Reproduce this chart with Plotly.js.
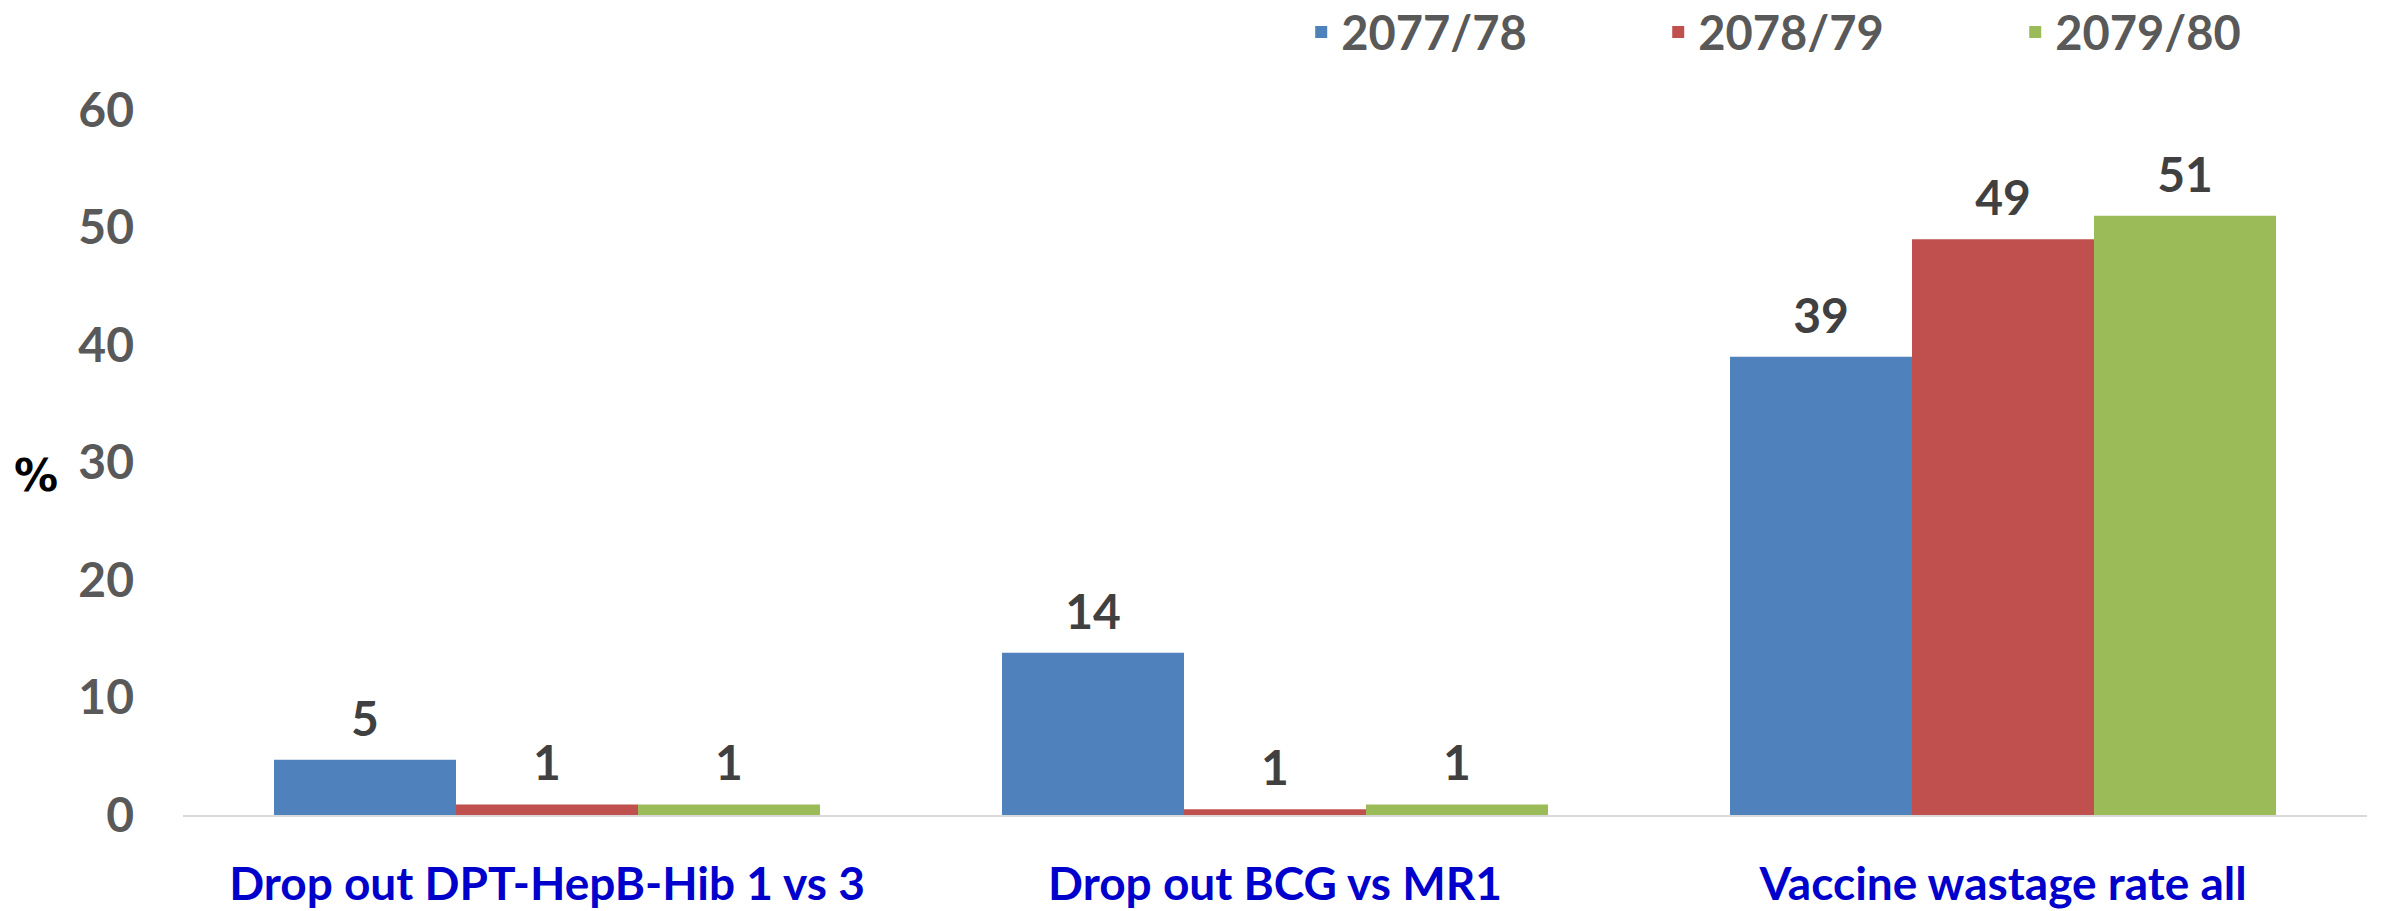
<!DOCTYPE html>
<html>
<head>
<meta charset="utf-8">
<script src="https://cdn.plot.ly/plotly-3.0.1.min.js"></script>
<style>
  html, body { margin: 0; padding: 0; background: #ffffff; }
  #chart { width: 2381px; height: 911px; }
</style>
</head>
<body>
<div id="chart"></div>
<script>
// ---- Data ----
const categories = ["Drop out DPT-HepB-Hib 1 vs 3", "Drop out BCG vs MR1", "Vaccine wastage rate all"];
const seriesNames = ["2077/78", "2078/79", "2079/80"];
const values2077 = [4.7, 13.8, 39];
const values2078 = [0.9, 0.5, 49];
const values2079 = [0.9, 0.9, 51];
const labels2077 = ["5", "14", "39"];
const labels2078 = ["1", "1", "49"];
const labels2079 = ["1", "1", "51"];
const yTickValues = [0, 10, 20, 30, 40, 50, 60];

// ---- Styles ----
const colors = ["#4f81bd", "#c0504d", "#9bbb59"];
const FONT = "Lato, 'Open Sans', sans-serif";

const allValues = [values2077, values2078, values2079];
const allLabels = [labels2077, labels2078, labels2079];

const traces = [];
allValues.forEach((vals, i) => {
  traces.push({
    type: "bar",
    name: seriesNames[i],
    x: categories,
    y: vals,
    marker: { color: colors[i], line: { width: 0 } },
    hoverinfo: "skip"
  });
});
// value labels: invisible markers grouped like the bars, carrying the text
allValues.forEach((vals, i) => {
  traces.push({
    type: "scatter",
    mode: "markers+text",
    showlegend: false,
    x: categories,
    y: vals,
    text: allLabels[i],
    textposition: "top center",
    textfont: { family: FONT, size: 48, color: "#404040", weight: 700 },
    marker: { size: 18, opacity: 0, color: colors[i] },
    cliponaxis: false,
    hoverinfo: "skip"
  });
});

const layout = {
  width: 2381,
  height: 911,
  paper_bgcolor: "#ffffff",
  plot_bgcolor: "#ffffff",
  margin: { l: 183, r: 14, t: 110, b: 96, autoexpand: false },
  barmode: "group",
  bargap: 0.25,
  bargroupgap: 0,
  scattermode: "group",
  scattergap: 0.25,
  font: { family: FONT },
  showlegend: true,
  legend: {
    orientation: "h",
    x: 0.512, xanchor: "left",
    y: 1.11, yanchor: "middle",
    font: { family: FONT, size: 47, color: "#595959", weight: 700 },
    entrywidth: 312,
    entrywidthmode: "pixels",
    itemwidth: 30,
    traceorder: "normal",
    bgcolor: "rgba(0,0,0,0)"
  },
  xaxis: {
    type: "category",
    showline: true,
    linecolor: "#d9d9d9",
    linewidth: 2,
    showgrid: false,
    zeroline: false,
    ticks: "",
    ticklabelstandoff: 28,
    tickfont: { family: FONT, size: 46, color: "#0000cc", weight: 700 }
  },
  yaxis: {
    range: [0, 60],
    tickvals: yTickValues,
    ticktext: yTickValues.map(String),
    showline: false,
    showgrid: false,
    zeroline: false,
    ticks: "",
    ticklabelstandoff: 48,
    tickfont: { family: FONT, size: 48, color: "#595959", weight: 700 }
  },
  annotations: [{
    text: "%",
    xref: "paper", yref: "paper",
    x: -0.0673, y: 0.482,
    xanchor: "center", yanchor: "middle",
    showarrow: false,
    font: { family: "'DejaVu Sans', sans-serif", size: 44, color: "#000000", weight: 700 }
  }]
};

Plotly.newPlot("chart", traces, layout, { displayModeBar: false, staticPlot: true });
</script>
</body>
</html>
